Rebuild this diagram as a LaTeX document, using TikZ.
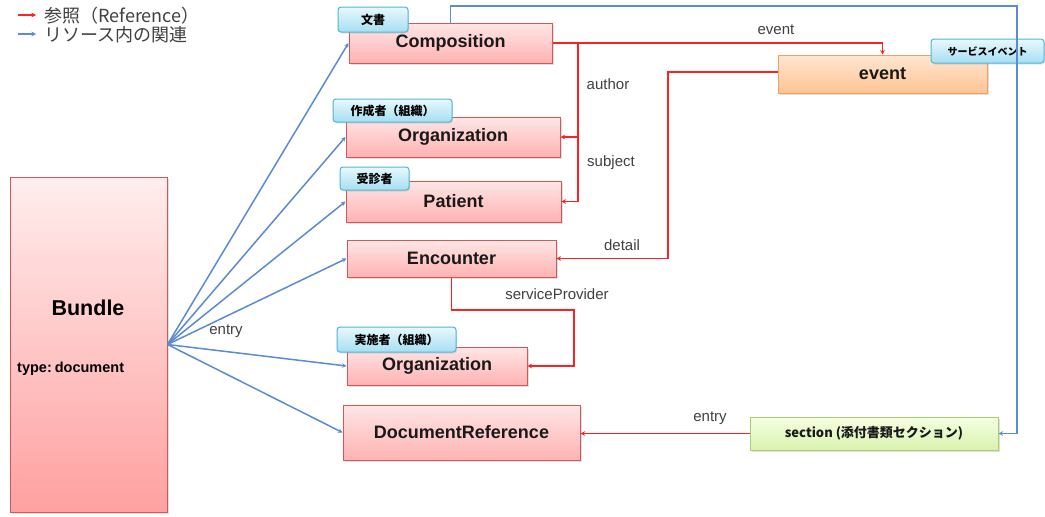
\documentclass[tikz,border=0pt]{standalone}
\usepackage{fontspec}
\setmainfont{Liberation Sans}
\newfontfamily\cjk{Noto Sans CJK JP}
\usetikzlibrary{arrows.meta,shadows}
\definecolor{refred}{HTML}{FF2020}
\definecolor{relblue}{HTML}{5B8BD0}
\definecolor{resborder}{HTML}{D05858}
\definecolor{restop}{HTML}{FFE6E6}
\definecolor{resbot}{HTML}{FFB2B2}
\definecolor{tagborder}{HTML}{4FB6D8}
\definecolor{tagtop}{HTML}{E8F8FD}
\definecolor{tagbot}{HTML}{A6DFF2}
\definecolor{evborder}{HTML}{F0A060}
\definecolor{evtop}{HTML}{FFE6D2}
\definecolor{evbot}{HTML}{FFC393}
\definecolor{secborder}{HTML}{A8CF6A}
\definecolor{sectop}{HTML}{F4FFE2}
\definecolor{secbot}{HTML}{DAF2AE}
\tikzset{
  res/.style={draw=resborder, line width=1pt, top color=restop, bottom color=resbot,
    font=\fontsize{18}{20}\selectfont\bfseries, text=black!90, inner sep=0pt,
    drop shadow={opacity=0.25, shadow xshift=1.5pt, shadow yshift=-2pt}},
  tagbox/.style={draw=tagborder, line width=1pt, rounded corners=3pt, top color=tagtop, bottom color=tagbot,
    font=\cjk\bfseries\fontsize{12}{14}\selectfont, text=black, inner sep=0pt,
    drop shadow={opacity=0.2, shadow xshift=1pt, shadow yshift=-1.5pt}},
  refline/.style={draw=refred, line width=1.6pt, -{Stealth[length=4.5pt,width=4.5pt]}},
  relline/.style={draw=relblue, line width=1.5pt, -{Stealth[length=4.5pt,width=4.5pt]}},
  lbl/.style={font=\fontsize{15}{17}\selectfont, text=black!75, inner sep=0pt}
}
\begin{document}
\begin{tikzpicture}[x=1pt,y=-1pt]
\fill[white] (0,0) rectangle (1045,517);
\useasboundingbox (0,0) rectangle (1045,517);

% legend
\coordinate (l1a) at (18,15); \coordinate (l1b) at (36,15);
\coordinate (l2a) at (18,34); \coordinate (l2b) at (36,34);
\draw[refline] (l1a) -- (l1b);
\draw[relline] (l2a) -- (l2b);
\node[anchor=west, inner sep=0pt, text=black!75, font=\cjk\fontsize{18}{20}\selectfont] (lg1) at (44,16) {参照（Reference）};
\node[anchor=west, inner sep=0pt, text=black!75, font=\cjk\fontsize{18}{20}\selectfont] (lg2) at (44,35) {リソース内の関連};

% resources
\node[res, minimum width=157pt, minimum height=335pt, top color=restop!70!white, bottom color=resbot!90!red] (bundle) at (88.5,344.5) {};
\node[font=\fontsize{21.5}{24}\selectfont\bfseries, inner sep=0pt] (bt) at (88,308) {Bundle};
\node[font=\fontsize{14.5}{16}\selectfont\bfseries, anchor=west, inner sep=0pt] (bt2) at (17,369) {type:\kern-1pt\ document};

\node[res, minimum width=203pt, minimum height=40pt] (comp) at (450.5,43) {\raisebox{-2pt}{Composition}};
\node[res, minimum width=214pt, minimum height=40pt] (org1) at (453,137) {\raisebox{-2pt}{Organization}};
\node[res, minimum width=215pt, minimum height=41pt] (pat) at (453.5,201.5) {Patient};
\node[res, minimum width=209pt, minimum height=37pt] (enc) at (451.5,258.5) {Encounter};
\node[res, minimum width=180pt, minimum height=38pt] (org2) at (437,366) {\raisebox{-1pt}{Organization}};
\node[res, minimum width=237pt, minimum height=55pt] (docref) at (461.5,432.5) {DocumentReference};
\node[res, draw=evborder, top color=evtop, bottom color=evbot, minimum width=209pt, minimum height=38pt] (event) at (882.5,74) {event};
\node[res, draw=secborder, top color=sectop, bottom color=secbot, minimum width=248pt, minimum height=33pt,
  font=\cjk\bfseries\fontsize{13}{15}\selectfont] (section) at (874,433.5) {section (添付書類セクション)};

% tags
\node[tagbox, minimum width=70pt, minimum height=25pt] (t1) at (373,19.5) {文書};
\node[tagbox, minimum width=113pt, minimum height=24pt, font=\cjk\bfseries\fontsize{10}{12}\selectfont] (t2) at (987.5,51) {サービスイベント};
\node[tagbox, minimum width=119pt, minimum height=23pt] (t3) at (392.5,110.5) {作成者（組織）};
\node[tagbox, minimum width=69pt, minimum height=23pt] (t4) at (374.5,178.5) {受診者};
\node[tagbox, minimum width=119pt, minimum height=25pt] (t5) at (396.5,339.5) {実施者（組織）};

% blue entries
\draw[relline] (bundle.east) -- (comp.west);
\draw[relline] (bundle.east) -- (org1.west);
\draw[relline] (bundle.east) -- (pat.west);
\draw[relline] (bundle.east) -- (enc.west);
\draw[relline] (bundle.east) -- (org2.west);
\draw[relline] (bundle.east) -- (docref.west);
\node[lbl] (entry1) at (226,331) {entry};

% red references
\coordinate (rb) at (578,43);
\draw[refline] (comp.east) -| (event.north);
\node[lbl] (lev) at (776,30) {event};
\draw[refline] (rb) |- (org1.east);
\draw[refline] (rb) |- (pat.east);
\node[lbl] (lau) at (608,84) {author};
\node[lbl] (lsu) at (611,163) {subject};

\coordinate (dc) at (668,72);
\draw[refline] (event.west |- dc) -- (dc) |- (enc.east);
\node[lbl] (lde) at (622,245) {detail};

\coordinate (spc) at (574,310);
\draw[refline] (enc.south) |- (spc) |- (org2.east);
\node[lbl] (lsp) at (557,294) {serviceProvider};

\draw[refline] (section.west) -- (docref.east |- section.west);
\node[lbl] (len) at (710,418) {entry};

% blue composition -> section
\coordinate (bc) at (1017,6);
\draw[relline] (comp.north) |- (bc) |- (section.east);
\end{tikzpicture}
\end{document}
